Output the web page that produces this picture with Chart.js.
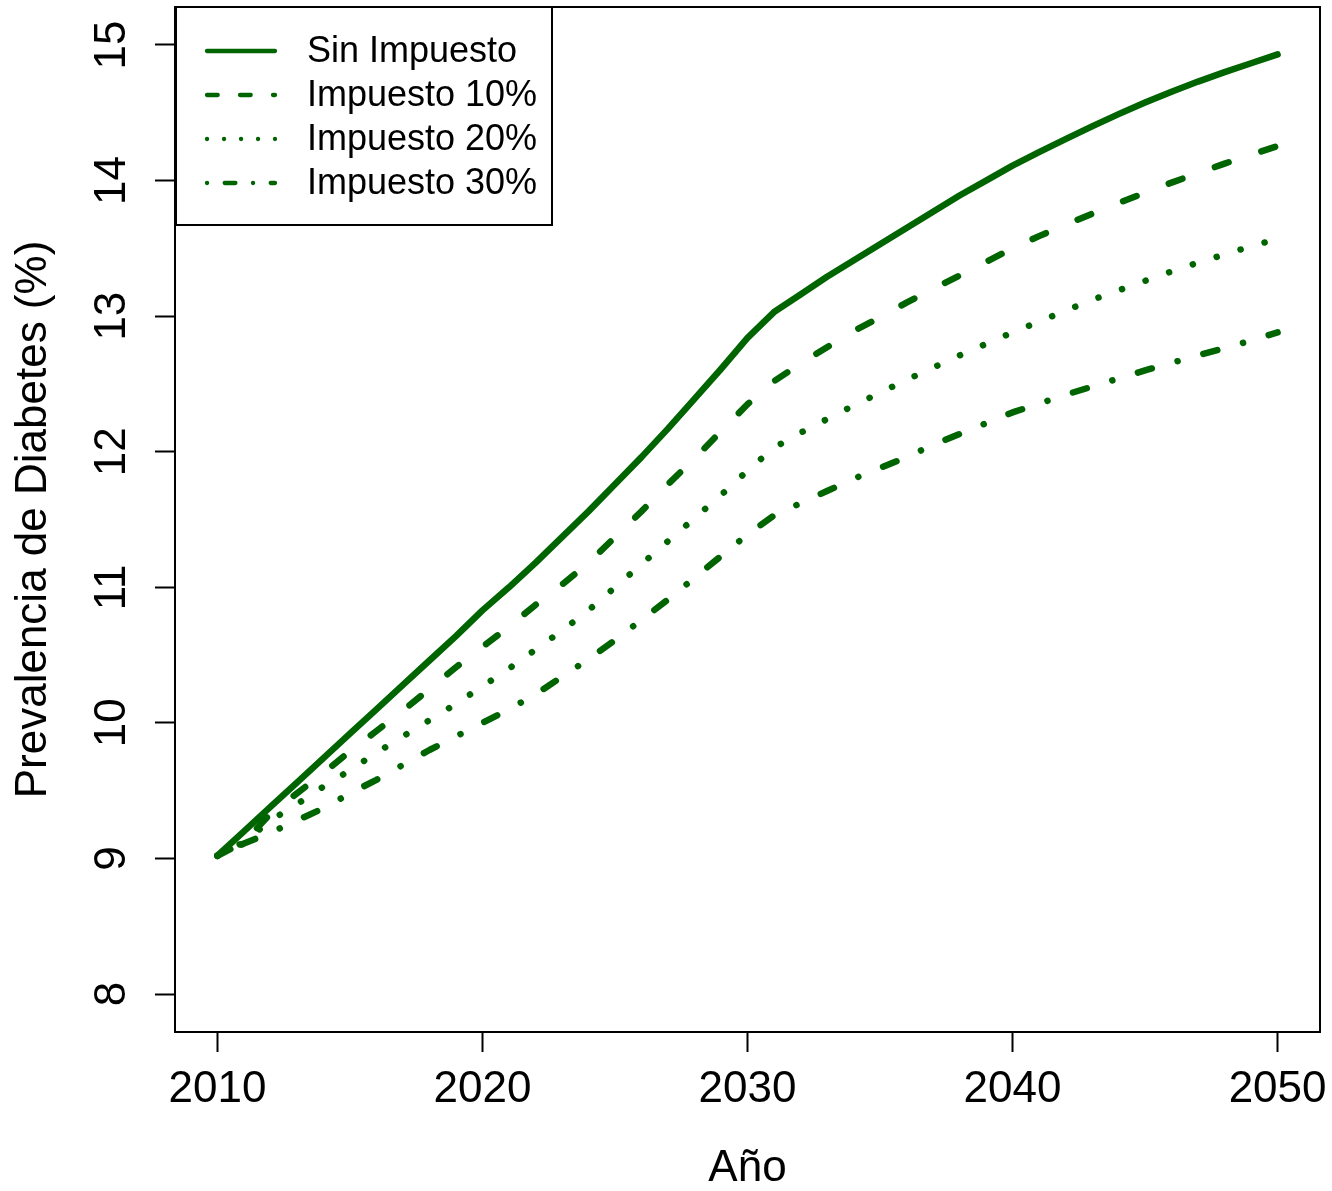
<!DOCTYPE html>
<html lang="es">
<head>
    <meta charset="UTF-8">
    <title>Prevalencia de Diabetes</title>
    <style>
        body {
            margin: 0;
            background-color: #ffffff;
        }

        #chart {
            display: block;
        }
    </style>
</head>
<body>
    <canvas id="chart" width="1332" height="1191"></canvas>

    <script src="https://cdn.jsdelivr.net/npm/chart.js"></script>
    <script>
        // data (prevalence in %, one value per year)
        const years = [];
        for (let y = 2010; y <= 2050; y++) years.push(y);

        const sinImpuesto = [
            9.02, 9.20, 9.38, 9.56, 9.74, 9.92, 10.10, 10.28, 10.46, 10.64,
            10.83, 11.00, 11.18, 11.37, 11.56, 11.76, 11.96, 12.17, 12.39, 12.61,
            12.84, 13.03, 13.16, 13.29, 13.41, 13.53, 13.65, 13.77, 13.89, 14.00,
            14.11, 14.21, 14.305, 14.40, 14.49, 14.575, 14.655, 14.73, 14.80, 14.865,
            14.93
        ];
        const impuesto10 = [
            9.02, 9.12, 9.33, 9.48, 9.63, 9.79, 9.94, 10.09, 10.25, 10.41,
            10.56, 10.71, 10.87, 11.02, 11.18, 11.37, 11.56, 11.76, 11.95, 12.15,
            12.35, 12.52, 12.65, 12.77, 12.89, 12.99, 13.10, 13.20, 13.30, 13.40,
            13.50, 13.59, 13.675, 13.755, 13.835, 13.91, 13.985, 14.055, 14.125, 14.19,
            14.255
        ];
        const impuesto20 = [
            9.02, 9.12, 9.28, 9.40, 9.53, 9.65, 9.78, 9.90, 10.02, 10.14,
            10.27, 10.40, 10.54, 10.68, 10.83, 11.00, 11.17, 11.34, 11.51, 11.68,
            11.86, 12.03, 12.14, 12.24, 12.34, 12.435, 12.53, 12.62, 12.71, 12.795,
            12.88, 12.96, 13.04, 13.12, 13.19, 13.26, 13.33, 13.395, 13.455, 13.515,
            13.57
        ];
        const impuesto30 = [
            9.02, 9.11, 9.19, 9.28, 9.37, 9.48, 9.58, 9.69, 9.80, 9.90,
            10.00, 10.10, 10.21, 10.34, 10.47, 10.61, 10.76, 10.91, 11.07, 11.23,
            11.39, 11.53, 11.62, 11.71, 11.80, 11.88, 11.96, 12.05, 12.13, 12.21,
            12.29, 12.355, 12.42, 12.48, 12.54, 12.60, 12.655, 12.71, 12.765, 12.82,
            12.88
        ];

        const seriesLabels = ['Sin Impuesto', 'Impuesto 10%', 'Impuesto 20%', 'Impuesto 30%'];
        const xTicks = [2010, 2020, 2030, 2040, 2050];
        const yTicks = [8, 9, 10, 11, 12, 13, 14, 15];

        const green = '#006400';
        const font = 'Liberation Sans, Arial, Helvetica, sans-serif';

        // line patterns: plot dash, legend dash (legend lines are thinner)
        const dashes = [[], [14.5, 34.5], [0.1, 24.9], [0.1, 26.7, 14.5, 26.7]];
        const legendDashes = [[], [10.7, 22.3], [0.1, 16.9], [0.1, 17.6, 10.7, 17.6]];

        function toPoints(values) {
            return years.map((yr, i) => ({ x: yr, y: values[i] }));
        }

        const allSeries = [sinImpuesto, impuesto10, impuesto20, impuesto30];
        const datasets = allSeries.map((values, i) => ({
            label: seriesLabels[i],
            data: toPoints(values),
            borderColor: green,
            borderWidth: 6.5,
            borderDash: dashes[i],
            borderCapStyle: 'round',
            borderJoinStyle: 'round',
            pointRadius: 0,
            tension: 0,
            fill: false
        }));

        // no extra room for overhanging tick labels, the plot box is fixed
        function noPadding(scale) {
            scale.paddingTop = 0;
            scale.paddingBottom = 0;
            scale.paddingLeft = 0;
            scale.paddingRight = 0;
        }

        // box around plot + R style legend in the top left corner
        const framePlugin = {
            id: 'frame',
            afterDraw(chart) {
                const ctx = chart.ctx;
                const area = chart.chartArea;
                ctx.save();
                ctx.strokeStyle = '#000';
                ctx.lineWidth = 2;
                ctx.strokeRect(area.left, area.top, area.right - area.left, area.bottom - area.top);

                // legend
                const boxLeft = area.left + 1;
                const boxTop = area.top;
                ctx.strokeRect(boxLeft, boxTop, 376, 218);

                ctx.font = '36px ' + font;
                ctx.textBaseline = 'middle';
                ctx.textAlign = 'left';
                chart.data.datasets.forEach((ds, i) => {
                    const rowY = boxTop + 44 + i * 44;
                    ctx.save();
                    ctx.strokeStyle = ds.borderColor;
                    ctx.lineWidth = 4.3;
                    ctx.lineCap = 'round';
                    ctx.setLineDash(legendDashes[i]);
                    ctx.beginPath();
                    ctx.moveTo(area.left + 32, rowY);
                    ctx.lineTo(area.left + 100, rowY);
                    ctx.stroke();
                    ctx.restore();
                    ctx.fillStyle = '#000';
                    ctx.fillText(ds.label, area.left + 132, rowY + 1);
                });
                ctx.restore();
            }
        };

        const ctx = document.getElementById('chart').getContext('2d');
        const chart = new Chart(ctx, {
            type: 'line',
            data: { datasets: datasets },
            options: {
                responsive: false,
                animation: false,
                devicePixelRatio: 1,
                layout: {
                    padding: { top: 7, right: 12, left: 0, bottom: 0 }
                },
                plugins: {
                    legend: { display: false },
                    tooltip: { enabled: false }
                },
                scales: {
                    x: {
                        type: 'linear',
                        min: 2008.4,
                        max: 2051.6,
                        afterBuildTicks: (scale) => {
                            scale.ticks = xTicks.map(v => ({ value: v }));
                        },
                        afterFit: (scale) => {
                            scale.height = 159;
                            noPadding(scale);
                        },
                        grid: {
                            drawOnChartArea: false,
                            drawTicks: true,
                            tickLength: 20,
                            tickWidth: 2,
                            tickColor: '#000'
                        },
                        border: { display: false },
                        ticks: {
                            color: '#000',
                            padding: 11,
                            maxRotation: 0,
                            font: { family: font, size: 44 },
                            callback: (v) => String(v)
                        },
                        title: {
                            display: true,
                            text: 'Año',
                            color: '#000',
                            padding: { top: 0, bottom: 0 },
                            font: { family: font, size: 44, lineHeight: 1 }
                        }
                    },
                    y: {
                        type: 'linear',
                        min: 7.72,
                        max: 15.28,
                        afterBuildTicks: (scale) => {
                            scale.ticks = yTicks.map(v => ({ value: v }));
                        },
                        afterFit: (scale) => {
                            scale.width = 175;
                            noPadding(scale);
                        },
                        grid: {
                            drawOnChartArea: false,
                            drawTicks: true,
                            tickLength: 20,
                            tickWidth: 2,
                            tickColor: '#000'
                        },
                        border: { display: false },
                        ticks: {
                            color: '#000',
                            padding: 18,
                            minRotation: 90,
                            maxRotation: 90,
                            crossAlign: 'center',
                            font: { family: font, size: 44 },
                            callback: (v) => String(v)
                        },
                        title: {
                            display: true,
                            text: 'Prevalencia de Diabetes (%)',
                            color: '#000',
                            padding: { top: 12, bottom: 0 },
                            font: { family: font, size: 44, lineHeight: 1 }
                        }
                    }
                }
            },
            plugins: [framePlugin]
        });
    </script>
</body>
</html>
